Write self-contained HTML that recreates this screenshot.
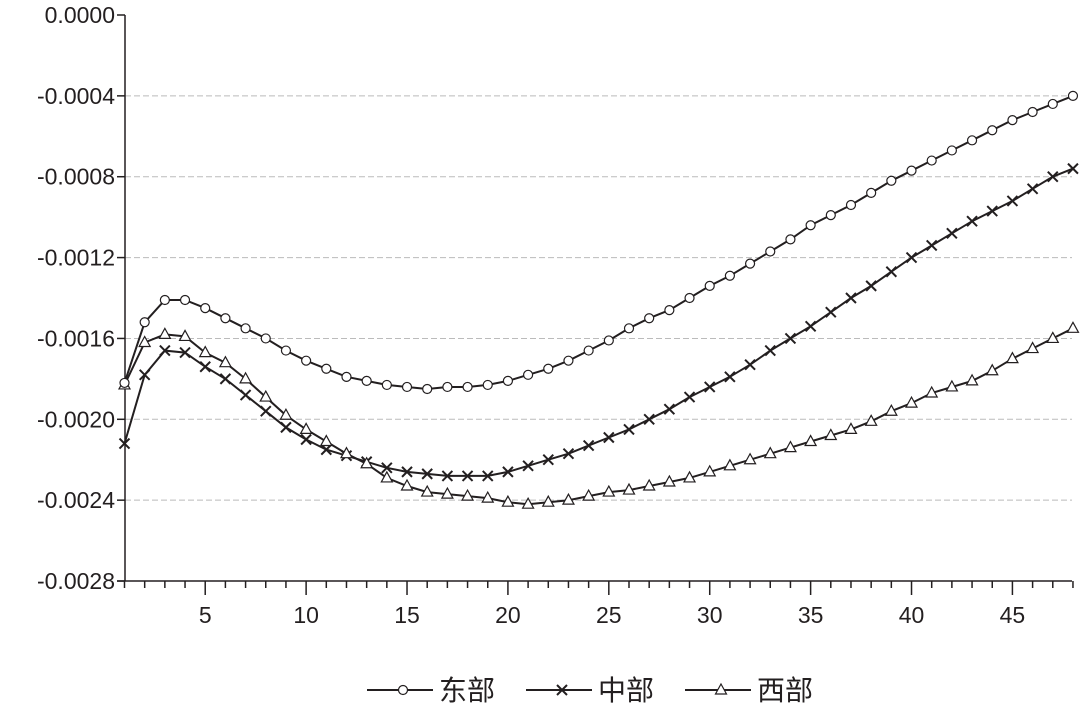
<!DOCTYPE html>
<html><head><meta charset="utf-8"><style>
html,body{margin:0;padding:0;background:#fff;}
svg text{font-family:"Liberation Sans","Noto Sans CJK SC",sans-serif;fill:#231f20;}
</style></head><body>
<svg id="s" width="1080" height="710" xmlns="http://www.w3.org/2000/svg"></svg>
<script>
var E=[-0.00182,-0.00152,-0.00141,-0.00141,-0.00145,-0.0015,-0.00155,-0.0016,-0.00166,-0.00171,-0.00175,-0.00179,-0.00181,-0.00183,-0.00184,-0.00185,-0.00184,-0.00184,-0.00183,-0.00181,-0.00178,-0.00175,-0.00171,-0.00166,-0.00161,-0.00155,-0.0015,-0.00146,-0.0014,-0.00134,-0.00129,-0.00123,-0.00117,-0.00111,-0.00104,-0.00099,-0.00094,-0.00088,-0.00082,-0.00077,-0.00072,-0.00067,-0.00062,-0.00057,-0.00052,-0.00048,-0.00044,-0.0004];
var C=[-0.00212,-0.00178,-0.00166,-0.00167,-0.00174,-0.0018,-0.00188,-0.00196,-0.00204,-0.0021,-0.00215,-0.00218,-0.00221,-0.00224,-0.00226,-0.00227,-0.00228,-0.00228,-0.00228,-0.00226,-0.00223,-0.0022,-0.00217,-0.00213,-0.00209,-0.00205,-0.002,-0.00195,-0.00189,-0.00184,-0.00179,-0.00173,-0.00166,-0.0016,-0.00154,-0.00147,-0.0014,-0.00134,-0.00127,-0.0012,-0.00114,-0.00108,-0.00102,-0.00097,-0.00092,-0.00086,-0.0008,-0.00076];
var W=[-0.00183,-0.00162,-0.00158,-0.00159,-0.00167,-0.00172,-0.0018,-0.00189,-0.00198,-0.00205,-0.00211,-0.00217,-0.00222,-0.00229,-0.00233,-0.00236,-0.00237,-0.00238,-0.00239,-0.00241,-0.00242,-0.00241,-0.0024,-0.00238,-0.00236,-0.00235,-0.00233,-0.00231,-0.00229,-0.00226,-0.00223,-0.0022,-0.00217,-0.00214,-0.00211,-0.00208,-0.00205,-0.00201,-0.00196,-0.00192,-0.00187,-0.00184,-0.00181,-0.00176,-0.0017,-0.00165,-0.0016,-0.00155];
function X(i){return 124.5+(i-1)*20.18;}
function Y(v){return 15+(-v/0.0004)*80.86;}
var h='';
var labs=['0.0000','-0.0004','-0.0008','-0.0012','-0.0016','-0.0020','-0.0024','-0.0028'];
for(var k=0;k<8;k++){var y=Y(-k*0.0004);
 if(k>0&&k<7)h+='<line x1="125" x2="1072" y1="'+y+'" y2="'+y+'" stroke="#bbb" stroke-width="1" stroke-dasharray="6,3"/>';
 h+='<line x1="117" x2="125" y1="'+y+'" y2="'+y+'" stroke="#231f20" stroke-width="1.5"/>';
 h+='<text x="115" y="'+(y+8)+'" font-size="23" text-anchor="end">'+labs[k]+'</text>';}
h+='<line x1="125" x2="125" y1="15" y2="581" stroke="#231f20" stroke-width="1.5"/>';
h+='<line x1="117" x2="1072" y1="581" y2="581" stroke="#231f20" stroke-width="1.5"/>';
for(var i=1;i<=48;i++){var x=X(i);h+='<line x1="'+x+'" x2="'+x+'" y1="581" y2="'+(i%5==0?595:588)+'" stroke="#231f20" stroke-width="1.5"/>';
 if(i%5==0)h+='<text x="'+x+'" y="623" font-size="23" text-anchor="middle">'+i+'</text>';}
function line(d){var p='';for(var i=0;i<d.length;i++)p+=(i?'L':'M')+X(i+1).toFixed(1)+','+Y(d[i]).toFixed(1);return '<path d="'+p+'" fill="none" stroke="#231f20" stroke-width="2"/>';}
function circ(x,y){return '<circle cx="'+x+'" cy="'+y+'" r="4.5" fill="#fff" stroke="#231f20" stroke-width="1.2"/>';}
function cross(x,y){var s=5;return '<path d="M'+(x-s)+','+(y-s)+'L'+(x+s)+','+(y+s)+'M'+(x-s)+','+(y+s)+'L'+(x+s)+','+(y-s)+'" stroke="#231f20" stroke-width="2"/>';}
function tri(x,y){return '<path d="M'+x+','+(y-6)+'L'+(x+5.5)+','+(y+4)+'L'+(x-5.5)+','+(y+4)+'Z" fill="#fff" stroke="#231f20" stroke-width="1.2"/>';}
[[C,cross],[W,tri],[E,circ]].forEach(function(s){h+=line(s[0]);for(var i=0;i<s[0].length;i++)h+=s[1](X(i+1),Y(s[0][i]));});
var ly=690;
function leg(x0,m,t){var r='<line x1="'+x0+'" x2="'+(x0+66)+'" y1="'+ly+'" y2="'+ly+'" stroke="#231f20" stroke-width="2"/>'+m(x0+36,ly);
 r+='<text x="'+(x0+72)+'" y="'+(ly+10)+'" font-size="28">'+t+'</text>';return r;}
h+=leg(367,circ,'东部')+leg(526,cross,'中部')+leg(685,tri,'西部');
document.getElementById('s').innerHTML=h;
</script>
</body></html>
